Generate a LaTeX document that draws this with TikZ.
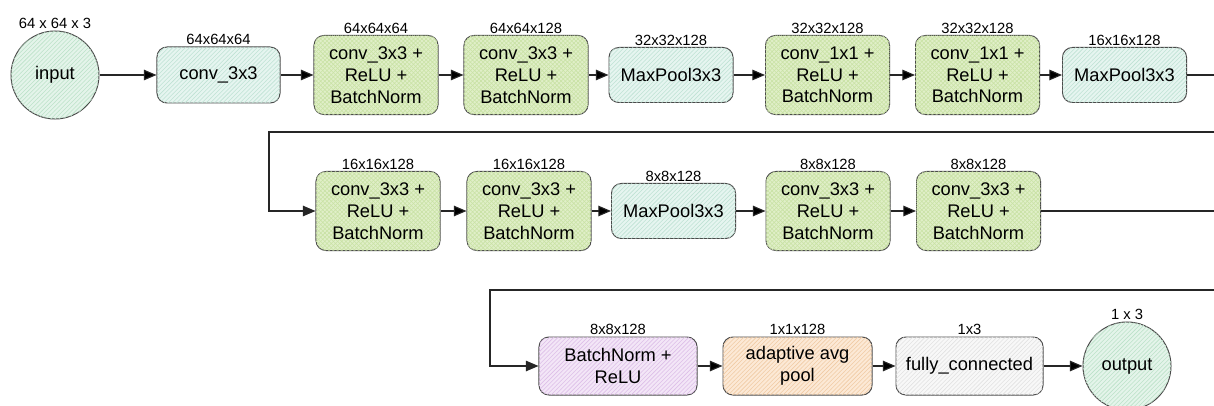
\documentclass[tikz,border=0pt]{standalone}
\usepackage{fontspec}
\setmainfont{Liberation Sans}
\usetikzlibrary{arrows.meta,patterns,calc}

\definecolor{linec}{HTML}{4A4A4A}
\definecolor{convfill}{HTML}{E0EFC8}
\definecolor{convhatch}{HTML}{C9E2A5}
\definecolor{poolfill}{HTML}{E6F5F0}
\definecolor{poolhatch}{HTML}{BFE2D4}
\definecolor{iofill}{HTML}{E4F4EA}
\definecolor{iohatch}{HTML}{BCE2C9}
\definecolor{bnfill}{HTML}{F3E6F7}
\definecolor{bnhatch}{HTML}{DDBFE8}
\definecolor{apfill}{HTML}{FCE9D6}
\definecolor{aphatch}{HTML}{F0CBA5}
\definecolor{fcfill}{HTML}{F8F8F8}
\definecolor{fchatch}{HTML}{E2E2E2}

\tikzset{
  blk/.style={draw=linec,line width=0.7pt,rounded corners=7pt,align=center,inner sep=2pt,
    font=\fontsize{13}{15.5}\selectfont,label distance=3pt},
  conv/.style={blk,fill=convfill,postaction={pattern=crosshatch,pattern color=convhatch},
    minimum width=3.1cm,minimum height=1.975cm},
  pool/.style={blk,fill=poolfill,postaction={pattern=north east lines,pattern color=poolhatch},
    minimum width=3.1cm,minimum height=1.375cm},
  io/.style={circle,draw=linec,line width=0.7pt,fill=iofill,
    postaction={pattern=north east lines,pattern color=iohatch},
    minimum size=2.2cm,inner sep=0pt,font=\fontsize{13}{15.5}\selectfont,label distance=8.5pt},
  dim/.style={font=\fontsize{10.5}{12}\selectfont,inner sep=1pt},
  flow/.style={draw=black!85,line width=0.8pt,-{Stealth[inset=0pt,length=9pt,width=7.5pt]}}
}

\begin{document}
\begin{tikzpicture}[x=0.025cm,y=-0.025cm]
  \useasboundingbox (0,0) rectangle (1214,406);
  \clip (0,0) rectangle (1214,406);

  % first row
  \node[io,label={[dim]above:64 x 64 x 3}] (in) at (55,75) {input};
  \node[blk,fill=poolfill,postaction={pattern=north east lines,pattern color=poolhatch},
    minimum width=3.075cm,minimum height=1.4cm,label={[dim]above:64x64x64}] (c0) at (218.5,75) {conv\_3x3};
  \node[conv,label={[dim]above:64x64x64}] (c1) at (376,75) {conv\_3x3 +\\ReLU +\\BatchNorm};
  \node[conv,label={[dim]above:64x64x128}] (c2) at (526,75) {conv\_3x3 +\\ReLU +\\BatchNorm};
  \node[pool,label={[dim]above:32x32x128}] (p1) at (671,75) {MaxPool3x3};
  \node[conv,label={[dim]above:32x32x128}] (c3) at (827.5,75) {conv\_1x1 +\\ReLU +\\BatchNorm};
  \node[conv,label={[dim]above:32x32x128}] (c4) at (977.5,75) {conv\_1x1 +\\ReLU +\\BatchNorm};
  \node[pool,label={[dim]above:16x16x128}] (p2) at (1124.5,75) {MaxPool3x3};

  % second row
  \node[conv,label={[dim]above:16x16x128}] (c5) at (378,211) {conv\_3x3 +\\ReLU +\\BatchNorm};
  \node[conv,label={[dim]above:16x16x128}] (c6) at (529,211) {conv\_3x3 +\\ReLU +\\BatchNorm};
  \node[pool,label={[dim]above:8x8x128}] (p3) at (673.5,211) {MaxPool3x3};
  \node[conv,label={[dim]above:8x8x128}] (c7) at (828,211) {conv\_3x3 +\\ReLU +\\BatchNorm};
  \node[conv,label={[dim]above:8x8x128}] (c8) at (978.5,211) {conv\_3x3 +\\ReLU +\\BatchNorm};

  % third row
  \node[blk,fill=bnfill,postaction={pattern=north east lines,pattern color=bnhatch},
    minimum width=3.95cm,minimum height=1.45cm,label={[dim]above:8x8x128}] (bn) at (618,366) {BatchNorm +\\ReLU};
  \node[blk,fill=apfill,postaction={pattern=north east lines,pattern color=aphatch},
    minimum width=3.725cm,minimum height=1.45cm,label={[dim]above:1x1x128}] (ap) at (797.5,366) {adaptive avg\\pool};
  \node[blk,fill=fcfill,postaction={pattern=north east lines,pattern color=fchatch},
    minimum width=3.675cm,minimum height=1.45cm,label={[dim]above:1x3}] (fc) at (969.5,366) {fully\_connected};
  \node[io,label={[dim]above:1 x 3}] (out) at (1127,366) {output};

  \coordinate (r1) at (1240,132);
  \coordinate (r2) at (1240,290);

  \path[flow]
    (in) edge (c0)
    (c0) edge (c1)
    (c1) edge (c2)
    (c2) edge (p1)
    (p1) edge (c3)
    (c3) edge (c4)
    (c4) edge (p2)
    (c5) edge (c6)
    (c6) edge (p3)
    (p3) edge (c7)
    (c7) edge (c8)
    (bn) edge (ap)
    (ap) edge (fc)
    (fc) edge (out);
  \draw[flow] (p2.east) -| (r1) -| (269,211) -- (c5.west);
  \draw[flow] (c8.east) -| (r2) -| (490,366) -- (bn.west);
\end{tikzpicture}
\end{document}
